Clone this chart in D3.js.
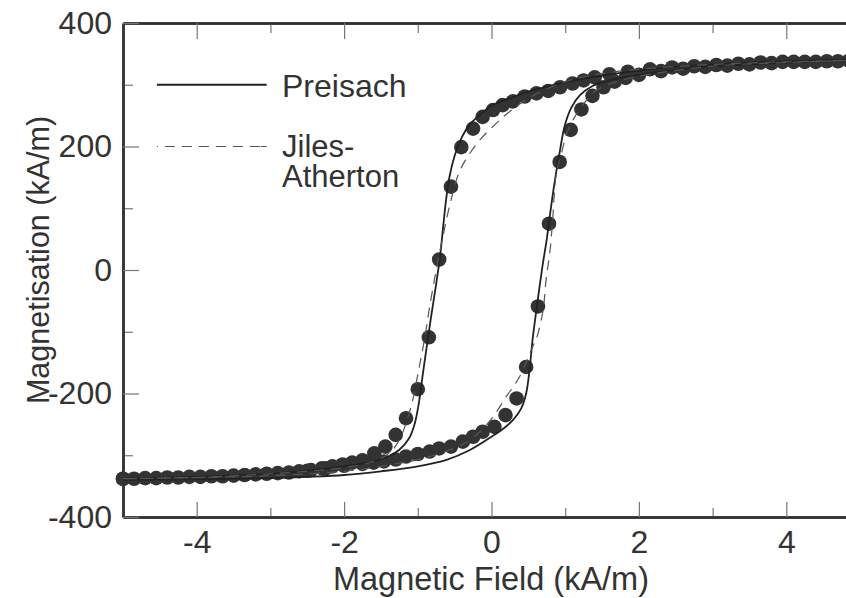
<!DOCTYPE html>
<html>
<head>
<meta charset="utf-8">
<script src="https://cdn.jsdelivr.net/npm/d3@7"></script>
<style>
  body { margin: 0; background: #fff; }
  svg { display: block; font-family: "Liberation Sans", Arial, sans-serif; }
</style>
</head>
<body>
<svg width="846" height="598"></svg>
<script>
// measured points, descending branch (H kA/m, M kA/m)
const measDesc = [
  [4.85,339],[4.55,338],[4.25,337],[3.95,337],[3.65,336],[3.35,334],[3.05,332],[2.75,330],
  [2.45,328],[2.15,325],[1.85,321],[1.6,317],[1.4,312],[1.25,307],[1.1,302],[0.93,296],
  [0.77,290],[0.61,286],[0.45,281],[0.29,273],[0.15,267],[0.02,259],[-0.12,248],[-0.25,229],
  [-0.41,199],[-0.55,135],[-0.71,17],[-0.85,-109],[-1.0,-193],[-1.16,-240],[-1.3,-267],
  [-1.44,-286],[-1.59,-297],[-1.75,-308],[-1.89,-312],[-2.02,-315],[-2.16,-318],[-2.3,-321],
  [-2.45,-324],[-2.61,-326],[-2.9,-329],[-3.2,-331],[-3.5,-333],[-3.8,-334],[-4.1,-335],
  [-4.4,-336],[-4.7,-337],[-5.0,-338]
];
// measured points, ascending branch
const measAsc = [
  [-5.0,-338],[-4.85,-338],[-4.55,-337],[-4.25,-336],[-3.95,-335],[-3.65,-334],[-3.35,-332],
  [-3.05,-330],[-2.75,-328],[-2.5,-325],[-2.25,-321],[-2.0,-317],[-1.75,-314],[-1.6,-312],
  [-1.46,-310],[-1.3,-307],[-1.16,-302],[-1.0,-298],[-0.84,-294],[-0.71,-289],[-0.55,-286],
  [-0.39,-278],[-0.25,-270],[-0.12,-262],[0.04,-254],[0.19,-235],[0.34,-208],[0.47,-157],
  [0.63,-59],[0.78,75],[0.925,175],[1.075,227],[1.22,260],[1.37,282],[1.52,296],[1.67,305],
  [1.82,311],[2.0,316],[2.3,322],[2.6,326],[2.9,329],[3.2,331],[3.5,333],[3.8,335],
  [4.1,337],[4.4,337],[4.7,338],[5.0,339]
];
// Preisach model
const preisachDesc = [
  [5,341],[4,338],[3,333],[2.5,329],[2,323],[1.5,315],[1,304],[0.5,289],[0.2,276],[0,266],
  [-0.16,251],[-0.3,235],[-0.41,213],[-0.5,185],[-0.57,151],[-0.62,110],[-0.66,65],[-0.7,20],
  [-0.75,-22],[-0.82,-76],[-0.88,-125],[-0.93,-167],[-0.98,-211],[-1.04,-248],[-1.12,-273],
  [-1.25,-291],[-1.4,-302],[-1.6,-310],[-2,-318],[-2.5,-325],[-3,-330],[-4,-335],[-5,-338]
];
const preisachAsc = [
  [-5,-340],[-4,-339],[-3,-337],[-2.5,-335],[-2,-332],[-1.5,-326],[-1,-318],[-0.6,-307],
  [-0.3,-292],[0,-270],[0.15,-258],[0.29,-243],[0.4,-225],[0.47,-200],[0.52,-157],[0.56,-110],
  [0.62,-55],[0.69,5],[0.75,50],[0.8,95],[0.86,145],[0.93,194],[0.99,232],[1.08,262],
  [1.2,283],[1.37,298],[1.56,306],[2,316],[2.5,324],[3,330],[4,336],[5,341]
];
// Jiles-Atherton model
const jaDesc = [
  [5,340],[4,337],[3,333],[2,325],[1.5,318],[1,305],[0.5,278],[0.24,256],[0.06,237],
  [-0.14,213],[-0.3,188],[-0.44,158],[-0.57,103],[-0.66,54],[-0.75,0],[-0.84,-60],
  [-0.91,-113],[-0.98,-157],[-1.07,-211],[-1.16,-248],[-1.25,-275],[-1.39,-297],
  [-1.6,-310],[-2,-320],[-3,-330],[-4,-336],[-5,-338]
];
const jaAsc = [
  [-5,-338],[-4,-336],[-3,-333],[-2,-326],[-1.5,-318],[-1,-307],[-0.6,-293],[-0.34,-279],
  [-0.16,-262],[0.02,-238],[0.2,-205],[0.38,-173],[0.56,-124],[0.61,-111],[0.7,-65],
  [0.74,-16],[0.79,27],[0.83,81],[0.85,119],[0.88,157],[0.95,189],[1.02,221],[1.13,248],
  [1.29,275],[1.42,291],[1.7,305],[2,314],[3,330],[4,336],[5,340]
];

const xMajor = [-4, -2, 0, 2, 4];
const xMinor = [-3, -1, 1, 3];
const yMajor = [-400, -200, 0, 200, 400];
const yMinor = [-300, -100, 100, 300];

const ink = "#333";
const svg = d3.select("svg");

const x = d3.scaleLinear().domain([-5, 5]).range([123, 860]);
const y = d3.scaleLinear().domain([-400, 400]).range([517, 23]);

const fmt = d => String(d);

function styleAxis(g) {
  g.select(".domain").attr("stroke", ink).attr("stroke-width", 2.5);
  g.selectAll(".tick line").attr("stroke", "#777").attr("stroke-width", 1.2);
  g.selectAll(".tick text").attr("fill", ink).attr("font-size", 32)
    .attr("font-family", "Liberation Sans, Arial, sans-serif");
}

// minor ticks first, then major with labels
svg.append("g").attr("transform", `translate(0,${y(-400)})`)
  .call(d3.axisBottom(x).tickValues(xMinor).tickSize(-9).tickSizeOuter(0).tickFormat(""))
  .call(styleAxis);
svg.append("g").attr("transform", `translate(0,${y(-400)})`)
  .call(d3.axisBottom(x).tickValues(xMajor).tickSize(-15).tickSizeOuter(0).tickPadding(13).tickFormat(fmt))
  .call(styleAxis);
svg.append("g").attr("transform", `translate(0,${y(400)})`)
  .call(d3.axisTop(x).tickValues(xMinor).tickSize(-10).tickSizeOuter(0).tickFormat(""))
  .call(styleAxis);
svg.append("g").attr("transform", `translate(0,${y(400)})`)
  .call(d3.axisTop(x).tickValues(xMajor).tickSize(-16).tickSizeOuter(0).tickFormat(""))
  .call(styleAxis);
svg.append("g").attr("transform", `translate(${x(-5)},0)`)
  .call(d3.axisLeft(y).tickValues(yMinor).tickSize(-10).tickSizeOuter(0).tickFormat(""))
  .call(styleAxis);
svg.append("g").attr("transform", `translate(${x(-5)},0)`)
  .call(d3.axisLeft(y).tickValues(yMajor).tickSize(-16).tickSizeOuter(0).tickPadding(11).tickFormat(fmt))
  .call(styleAxis);

// axis titles
svg.append("text")
  .attr("x", 491).attr("y", 590)
  .attr("text-anchor", "middle")
  .attr("font-size", 32.5).attr("fill", ink)
  .text("Magnetic Field (kA/m)");
svg.append("text")
  .attr("transform", "translate(49,260) rotate(-90)")
  .attr("text-anchor", "middle")
  .attr("font-size", 30.5).attr("fill", ink)
  .text("Magnetisation (kA/m)");

const line = d3.line()
  .x(d => x(d[0])).y(d => y(d[1]))
  .curve(d3.curveCatmullRom.alpha(0.5));

// measured data dots
svg.append("g").selectAll("circle")
  .data(measDesc.concat(measAsc))
  .join("circle")
    .attr("cx", d => x(d[0]))
    .attr("cy", d => y(d[1]))
    .attr("r", 7.3)
    .attr("fill", ink);

// model curves
[preisachDesc, preisachAsc].forEach(s => {
  svg.append("path").attr("d", line(s))
    .attr("fill", "none").attr("stroke", "#222").attr("stroke-width", 1.8);
});
[jaDesc, jaAsc].forEach(s => {
  svg.append("path").attr("d", line(s))
    .attr("fill", "none").attr("stroke", "#555").attr("stroke-width", 1.2)
    .attr("stroke-dasharray", "10,7");
});

// legend
const legend = svg.append("g");
legend.append("line")
  .attr("x1", x(-4.54)).attr("x2", x(-3.05))
  .attr("y1", y(300)).attr("y2", y(300))
  .attr("stroke", "#222").attr("stroke-width", 1.8);
legend.append("line")
  .attr("x1", x(-4.54)).attr("x2", x(-3.05))
  .attr("y1", y(200)).attr("y2", y(200))
  .attr("stroke", "#555").attr("stroke-width", 1.2)
  .attr("stroke-dasharray", "1,7,10,7,10,7,10,7,10,7,10,7,10");
legend.append("text")
  .attr("x", 282).attr("y", y(300) + 12)
  .attr("font-size", 32).attr("fill", ink)
  .text("Preisach");
legend.append("text")
  .attr("x", 282).attr("y", y(200) + 10)
  .attr("font-size", 31).attr("fill", ink)
  .text("Jiles-");
legend.append("text")
  .attr("x", 282).attr("y", y(200) + 40)
  .attr("font-size", 31).attr("fill", ink)
  .text("Atherton");
</script>
</body>
</html>
